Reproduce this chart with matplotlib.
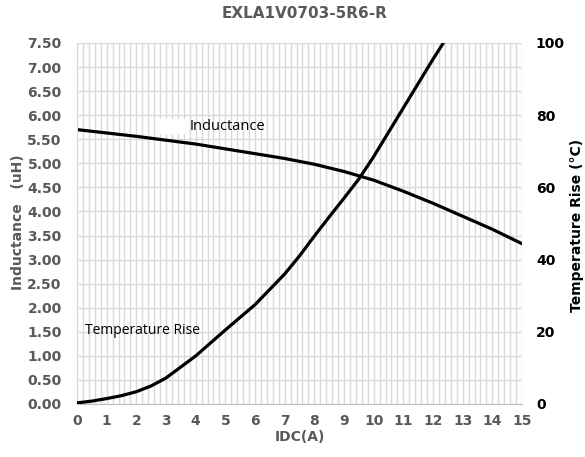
import matplotlib
matplotlib.use("Agg")
import matplotlib.pyplot as plt
from matplotlib.ticker import MultipleLocator

# values
idc = [0, 1, 2, 3, 4, 5, 6, 7, 8, 9, 10, 11, 12, 13, 14, 15]
inductance = [5.70, 5.63, 5.56, 5.48, 5.40, 5.30, 5.20, 5.10, 4.98, 4.83,
              4.65, 4.42, 4.17, 3.90, 3.63, 3.33]

idc_temp = [0, 0.5, 1, 1.5, 2, 2.5, 3, 4, 5, 6, 7, 7.5, 8, 8.5, 9, 9.5,
            10, 11, 12, 12.35]
temp_rise = [0.3, 0.8, 1.5, 2.3, 3.4, 5.0, 7.2, 13.3, 20.5, 27.5, 36, 41,
             46.5, 51.8, 57, 62.3, 68.5, 82, 95.5, 100]

title = "EXLA1V0703-5R6-R"
gray = "#595959"
grid_c = "#d9d9d9"

plt.rcParams['font.family'] = ['DejaVu Sans']

fig = plt.figure(figsize=(5.85, 4.57), dpi=100)
ax = fig.add_axes([0.1316, 0.116, 0.8923 - 0.1316, 0.906 - 0.116])
ax2 = ax.twinx()

ax.set_xlim(0, 15)
ax.set_ylim(0, 7.5)
ax2.set_ylim(0, 100)

ax.xaxis.set_major_locator(MultipleLocator(1))
ax.xaxis.set_minor_locator(MultipleLocator(0.2))
ax.yaxis.set_major_locator(MultipleLocator(0.5))
ax2.yaxis.set_major_locator(MultipleLocator(20))

ax.grid(which='both', axis='x', color=grid_c, lw=1.0)
ax.grid(which='major', axis='y', color=grid_c, lw=1.0)
ax.set_axisbelow(True)

for a in (ax, ax2):
    for s in a.spines.values():
        s.set_visible(False)
ax.spines['bottom'].set_visible(True)
ax.spines['bottom'].set_color('#bfbfbf')
ax.spines['left'].set_visible(True)
ax.spines['left'].set_color(grid_c)

ax.tick_params(axis='both', which='both', length=0)
ax2.tick_params(axis='y', length=0, pad=10)
ax.tick_params(axis='y', pad=11)
ax.tick_params(axis='x', pad=7)

ax.set_yticklabels([f"{v:.2f}" for v in ax.get_yticks()])
for lab in ax.get_xticklabels() + ax.get_yticklabels():
    lab.set_fontweight('bold')
    lab.set_color(gray)
    lab.set_fontsize(10)
for lab in ax2.get_yticklabels():
    lab.set_fontweight('bold')
    lab.set_color('black')
    lab.set_fontsize(10)

ax.plot(idc, inductance, color='black', lw=2.3, solid_capstyle='round')
ax2.plot(idc_temp, temp_rise, color='black', lw=2.3, solid_capstyle='round',
         solid_joinstyle='round')

ax.text(2.72, 5.77, "      ", fontsize=10, va='center', ha='left',
        bbox=dict(facecolor='white', edgecolor='none', pad=0.5))
ax.text(3.8, 5.77, "Inductance", fontsize=10.5, va='center', ha='left',
        family=['Open Sans', 'DejaVu Sans'])
ax.text(0.27, 1.52, "Temperature Rise", fontsize=10, va='center', ha='left',
        family=['Open Sans', 'DejaVu Sans'])

fig.text(305 / 585, 1 - 14 / 457, title, ha='center', va='center',
         fontsize=11, fontweight='bold', color=gray)
fig.text(300 / 585, 1 - 437 / 457, "IDC(A)", ha='center', va='center',
         fontsize=10, fontweight='bold', color=gray)
fig.text(18 / 585, 1 - 222 / 457, "Inductance   (uH)", ha='center', va='center',
         rotation=90, fontsize=10, fontweight='bold', color=gray)
fig.text(577 / 585, 1 - 225 / 457, "Temperature Rise (°C)", ha='center',
         va='center', rotation=90, fontsize=10, fontweight='bold', color='black')

fig.savefig("out.png", dpi=100)
